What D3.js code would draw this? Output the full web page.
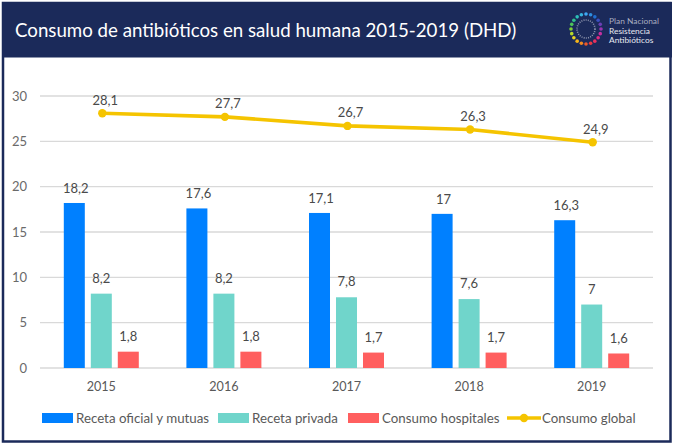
<!DOCTYPE html>
<html><head><meta charset="utf-8">
<script src="https://cdn.jsdelivr.net/npm/d3@7"></script>
<style>html,body{margin:0;padding:0;background:#fff}svg{display:block}text{font-family:Lato,sans-serif}</style>
</head><body><svg id="c" width="674" height="446"></svg>
<script>
const years = ["2015","2016","2017","2018","2019"];
const seriesNames = ["Receta oficial y mutuas","Receta privada","Consumo hospitales"];
const oficial = [18.2,17.6,17.1,17,16.3];
const privada = [8.2,8.2,7.8,7.6,7];
const hospitales = [1.8,1.8,1.7,1.7,1.6];
const globalName = "Consumo global";
const globalValues = [28.1,27.7,26.7,26.3,24.9];
const yTicks = [0,5,10,15,20,25,30];
const colors = ["#0080ff","#70d5cb","#ff5f5f"];
const lineColor = "#f5c400";
const title = "Consumo de antibióticos en salud humana 2015-2019 (DHD)";
const logoLines = ["Plan Nacional","Resistencia","Antibióticos"];
const logoColors = ["#3fa9f5","#2f8fe0","#1f6fd0","#3b4fc0","#6a3fb5","#9a35b0","#c42fa0","#e02a80","#e8305f","#e83a40","#ee5a2a","#f28a1e","#f5b51a","#e8d320","#b5d82a","#7fcf3a","#4cc35a","#2fbf8a","#2cc0b8","#35b5e0"];
const fmt = v => String(v).replace(".",",");

const svg = d3.select("#c");
const navy = "#1b2a5a";
svg.append("rect").attr("x",3).attr("y",3).attr("width",667.5).attr("height",438.5).attr("fill","#fff").attr("stroke",navy).attr("stroke-width",2.5);
svg.append("rect").attr("x",2).attr("y",2).attr("width",670).attr("height",55.5).attr("fill",navy);
svg.append("text").attr("x",15).attr("y",37).attr("fill","#fff").attr("font-size",18.7).text(title);

// logo
const logo = svg.append("g").attr("transform","translate(586,29)");
const ang = d3.scaleBand().domain(d3.range(logoColors.length)).range([0,2*Math.PI]);
logo.selectAll("circle").data(logoColors).join("circle")
  .attr("cx",(d,i)=>15*Math.sin(ang(i))).attr("cy",(d,i)=>-15*Math.cos(ang(i)))
  .attr("r",1.8).attr("fill",d=>d);
logo.append("circle").attr("r",9).attr("fill","none").attr("stroke","#8d94ad").attr("stroke-width",1.6).attr("stroke-dasharray","1 1.2");
svg.append("g").selectAll("text").data(logoLines).join("text")
  .attr("x",609).attr("y",(d,i)=>[24,34,43][i]).attr("font-size",8.4)
  .attr("fill",(d,i)=>i?"#e6e8ef":"#a8adc0").text(d=>d);

const x0 = d3.scaleBand().domain(years).range([40,653]);
const y = d3.scaleLinear().domain([0,30]).range([368,96]);
const x1 = d3.scaleBand().domain(seriesNames).range([-37.5,37.5]).paddingInner(0.222).paddingOuter(0);

const grid = svg.append("g");
grid.selectAll("line").data(yTicks).join("line")
  .attr("x1",40).attr("x2",653).attr("y1",d=>y(d)).attr("y2",d=>y(d))
  .attr("stroke","#d9d9d9").attr("stroke-width",1.4);
svg.append("g").selectAll("text").data(yTicks).join("text")
  .attr("x",27).attr("y",d=>y(d)+4.5).attr("text-anchor","end").attr("font-size",13).attr("fill","#6a6a6a").text(d=>d);
svg.append("g").selectAll("text").data(years).join("text")
  .attr("x",d=>x0(d)+x0.bandwidth()/2).attr("y",391).attr("text-anchor","middle").attr("font-size",12.6).attr("fill","#595959").text(d=>d);

const seriesVals = [oficial,privada,hospitales];
const labelGap = [10,11,10.5];
const labelShift = [1.5,0,0];
seriesNames.forEach((s,k)=>{
  const g = svg.append("g");
  const cx = i => x0(years[i])+x0.bandwidth()/2+x1(s);
  g.selectAll("rect").data(seriesVals[k]).join("rect")
    .attr("x",(d,i)=>cx(i)).attr("width",x1.bandwidth())
    .attr("y",d=>y(d)).attr("height",d=>y(0)-y(d)).attr("fill",colors[k]);
  g.selectAll("text").data(seriesVals[k]).join("text")
    .attr("x",(d,i)=>cx(i)+x1.bandwidth()/2+labelShift[k]).attr("y",d=>y(d)-labelGap[k])
    .attr("text-anchor","middle").attr("font-size",13).attr("fill","#4a4a4a").text(d=>fmt(d));
});

const cxL = i => x0(years[i])+x0.bandwidth()/2+1;
const line = d3.line().x((d,i)=>cxL(i)).y(d=>y(d));
svg.append("path").datum(globalValues).attr("d",line).attr("fill","none").attr("stroke",lineColor).attr("stroke-width",3.6);
svg.append("g").selectAll("circle").data(globalValues).join("circle")
  .attr("cx",(d,i)=>cxL(i)).attr("cy",d=>y(d)).attr("r",4.2).attr("fill",lineColor);
svg.append("g").selectAll("text").data(globalValues).join("text")
  .attr("x",(d,i)=>cxL(i)+3).attr("y",d=>y(d)-8.5).attr("text-anchor","middle").attr("font-size",13).attr("fill","#4a4a4a").text(d=>fmt(d));

// legend
const legX = [42,218,348];
const legG = svg.append("g");
seriesNames.forEach((s,k)=>{
  legG.append("rect").attr("x",legX[k]).attr("y",413).attr("width",31).attr("height",10).attr("fill",colors[k]);
  legG.append("text").attr("x",legX[k]+34).attr("y",423).attr("font-size",13.3).attr("fill","#595959").text(s);
});
legG.append("line").attr("x1",507).attr("x2",541).attr("y1",418).attr("y2",418).attr("stroke",lineColor).attr("stroke-width",3.4);
legG.append("circle").attr("cx",524).attr("cy",418).attr("r",4.2).attr("fill",lineColor);
legG.append("text").attr("x",542).attr("y",423).attr("font-size",13.3).attr("fill","#595959").text(globalName);
</script></body></html>
